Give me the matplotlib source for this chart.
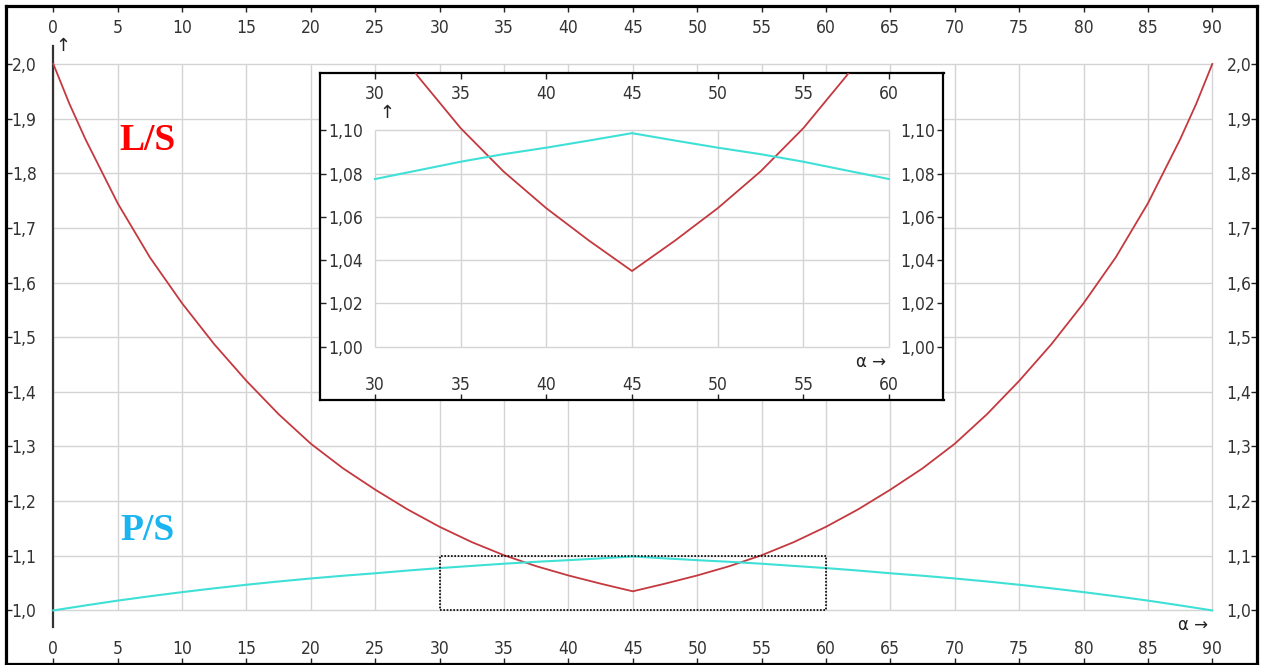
import matplotlib
matplotlib.use('Agg')
import matplotlib.pyplot as plt
from matplotlib.patches import Rectangle

# ---------------- data ----------------
alpha = [0, 1.25, 2.5, 5, 7.5, 10, 12.5, 15, 17.5, 20, 22.5, 25, 27.5, 30, 32.5, 35, 37.5,
         40, 42.5, 45, 47.5, 50, 52.5, 55, 57.5, 60, 62.5, 65, 67.5, 70, 72.5, 75, 77.5,
         80, 82.5, 85, 87.5, 88.75, 90]
ls_ratio = [2.000, 1.927, 1.862, 1.745, 1.646, 1.562, 1.487, 1.420, 1.359, 1.305, 1.260,
            1.221, 1.185, 1.153, 1.125, 1.101, 1.081, 1.064, 1.049, 1.035, 1.049, 1.064,
            1.081, 1.101, 1.125, 1.153, 1.185, 1.221, 1.260, 1.305, 1.359, 1.420, 1.487,
            1.562, 1.646, 1.745, 1.862, 1.927, 2.000]
ps_ratio = [1.000, 1.0046, 1.0092, 1.018, 1.026, 1.0335, 1.0405, 1.047, 1.053, 1.0585,
            1.0635, 1.068, 1.073, 1.0775, 1.0815, 1.0855, 1.089, 1.092, 1.0953, 1.0987,
            1.0953, 1.092, 1.089, 1.0855, 1.0815, 1.0775, 1.073, 1.068, 1.0635, 1.0585,
            1.053, 1.047, 1.0405, 1.0335, 1.026, 1.018, 1.0092, 1.0046, 1.000]

main_xticks = [0, 5, 10, 15, 20, 25, 30, 35, 40, 45, 50, 55, 60, 65, 70, 75, 80, 85, 90]
main_xlabels = ['0', '5', '10', '15', '20', '25', '30', '35', '40', '45', '50', '55',
                '60', '65', '70', '75', '80', '85', '90']
main_yticks = [1.0, 1.1, 1.2, 1.3, 1.4, 1.5, 1.6, 1.7, 1.8, 1.9, 2.0]
main_ylabels = ['1,0', '1,1', '1,2', '1,3', '1,4', '1,5', '1,6', '1,7', '1,8', '1,9', '2,0']

inset_xticks = [30, 35, 40, 45, 50, 55, 60]
inset_xlabels = ['30', '35', '40', '45', '50', '55', '60']
inset_yticks = [1.00, 1.02, 1.04, 1.06, 1.08, 1.10]
inset_ylabels = ['1,00', '1,02', '1,04', '1,06', '1,08', '1,10']

zoom_box = (30, 60, 1.0, 1.1)

# ---------------- style ----------------
W, H = 1265, 665
plt.rcParams['font.family'] = ['DejaVu Sans']
plt.rcParams['font.stretch'] = 'condensed'
LBL = '#333333'
GRID = '#d4d4d4'
RED = '#c4393f'
CYAN = '#3fe0d6'
FS = 12.5

fig = plt.figure(figsize=(W / 100, H / 100), dpi=100)


def px_axes(l, t, r, b):
    return fig.add_axes([l / W, 1 - b / H, (r - l) / W, (b - t) / H])


def setup_ticks(ax, xt, xl, yt, yl, pad_top, pad_bottom, pad_lr, fs, spine_lw):
    ax.set_xticks(xt)
    ax.set_xticklabels(xl)
    ax.set_yticks(yt)
    ax.set_yticklabels(yl)
    ax.tick_params(axis='x', direction='in', length=4, width=1, bottom=True, top=False,
                   labelbottom=True, labeltop=False, pad=pad_bottom, labelsize=fs,
                   labelcolor=LBL, color='#222222')
    ax.tick_params(axis='y', direction='in', length=4, width=1, left=True, right=True,
                   labelleft=True, labelright=True, pad=pad_lr, labelsize=fs,
                   labelcolor=LBL, color='#222222')
    sec = ax.secondary_xaxis('top')
    sec.set_xticks(xt)
    sec.set_xticklabels(xl)
    sec.tick_params(axis='x', direction='in', length=4, width=1, pad=pad_top,
                    labelsize=fs, labelcolor=LBL, color='#222222')
    sec.spines['top'].set_visible(False)
    for s in ax.spines.values():
        s.set_linewidth(spine_lw)
        s.set_color('black')
    return sec


# ---------------- main chart ----------------
ax = px_axes(6, 6, 1257, 664)
ax.set_xlim(-3.674, 93.47)
ax.set_ylim(0.902, 2.106)
setup_ticks(ax, main_xticks, main_xlabels, main_yticks, main_ylabels,
            pad_top=-22.5, pad_bottom=-17, pad_lr=-22, fs=FS, spine_lw=2.3)

ax.vlines(main_xticks, main_yticks[0], main_yticks[-1], color=GRID, lw=1, zorder=1)
ax.hlines(main_yticks, main_xticks[0], main_xticks[-1], color=GRID, lw=1, zorder=1)
ax.plot([0, 0], [0.970, 2.032], color='#333333', lw=1.6, zorder=2)

ax.plot(alpha, ls_ratio, color=RED, lw=1.3, zorder=3)
ax.plot(alpha, ps_ratio, color=CYAN, lw=1.5, zorder=3)

ax.add_patch(Rectangle((zoom_box[0], zoom_box[2]), zoom_box[1] - zoom_box[0],
                       zoom_box[3] - zoom_box[2], fill=False, ls=(0, (1, 1)),
                       lw=1.2, ec='black', zorder=4))

ARROW_FONT = dict(family=['DejaVu Sans'], stretch='normal', color='#222222')
ax.text(0.78, 2.033, '\u2191', fontsize=13, ha='center', va='center', **ARROW_FONT)
ax.text(89.7, 0.9735, '\u03b1 \u2192', fontsize=12, ha='right', va='center', **ARROW_FONT)

ax.text(7.3, 1.86, 'L/S', color='#ff0000', fontsize=27, fontweight='bold',
        family=['Liberation Serif', 'DejaVu Serif'], stretch='normal',
        ha='center', va='center')
ax.text(7.3, 1.147, 'P/S', color='#1ab4f0', fontsize=27, fontweight='bold',
        family=['Liberation Serif', 'DejaVu Serif'], stretch='normal',
        ha='center', va='center')

# ---------------- inset ----------------
ins = px_axes(320, 73, 943.5, 400)
ins.set_facecolor('white')
ins.set_xlim(26.79, 63.18)
ins.set_ylim(0.9754, 1.1265)
setup_ticks(ins, inset_xticks, inset_xlabels, inset_yticks, inset_ylabels,
            pad_top=-21.5, pad_bottom=-17, pad_lr=-31, fs=FS, spine_lw=1.6)
ins.vlines(inset_xticks, inset_yticks[0], inset_yticks[-1], color=GRID, lw=1, zorder=1)
ins.hlines(inset_yticks, inset_xticks[0], inset_xticks[-1], color=GRID, lw=1, zorder=1)

in_a = [a for a in alpha if inset_xticks[0] <= a <= inset_xticks[-1]]
in_p = [p for a, p in zip(alpha, ps_ratio) if inset_xticks[0] <= a <= inset_xticks[-1]]
ins.plot(alpha, ls_ratio, color=RED, lw=1.3, zorder=3)
ins.plot(in_a, in_p, color=CYAN, lw=1.5, zorder=3)

ins.text(30.68, 1.108, '\u2191', fontsize=13, ha='center', va='center', **ARROW_FONT)
ins.text(59.8, 0.993, '\u03b1 \u2192', fontsize=12, ha='right', va='center', **ARROW_FONT)

fig.savefig('out.png', dpi=100)
